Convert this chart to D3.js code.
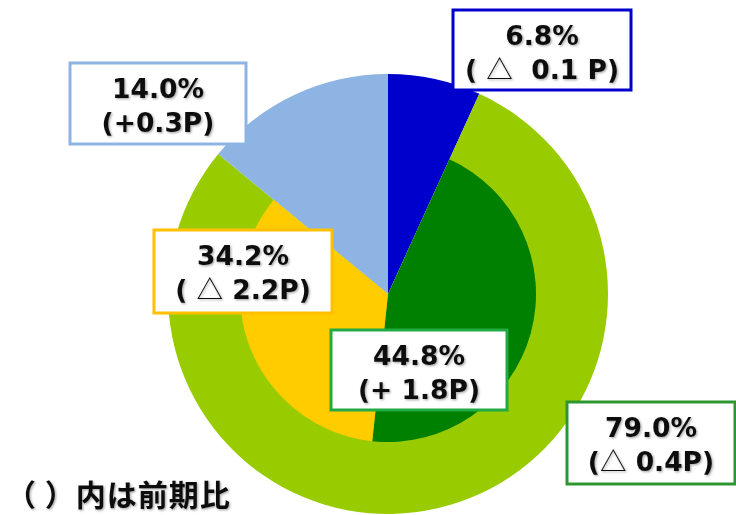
<!DOCTYPE html>
<html><head><meta charset="utf-8">
<script src="https://cdn.jsdelivr.net/npm/d3@7"></script>
<style>
html,body{margin:0;padding:0;background:#fff;}
svg{display:block}
text{white-space:pre}
</style>
</head><body>
<script>
// Outer ring: share of the whole, clockwise from 12 o'clock
const outerValues = [6.8, 79.0, 14.0];
const outerChanges = ["( △  0.1 P)", "(△ 0.4P)", "(+0.3P)"];
const outerColors = ["#0000CC", "#99CC00", "#8DB4E2"];
const outerBorders = ["#0000CC", "#2E962E", "#8DB4E2"];

// Inner pie: breakdown of the 79.0% segment
const innerValues = [44.8, 34.2];
const innerChanges = ["(+ 1.8P)", "( △ 2.2P)"];
const innerColors = ["#008000", "#FFCC00"];
const innerBorders = ["#22AA44", "#FFC000"];

const footnote = "（ ）内は前期比";

// Callout box placement (left, top, width, height)
const outerBoxes = [[453, 10, 178, 80], [567, 402, 168, 82], [70, 63, 176, 81]];
const innerBoxes = [[331, 330, 176, 80], [154, 230, 178, 83]];

const W = 736, H = 515, cx = 388, cy = 294, R = 220, r = 148;
const latin = "'DejaVu Sans', 'Noto Sans CJK JP', sans-serif";
const cjk = "'Noto Sans CJK JP', sans-serif";

const svg = d3.select("body").append("svg").attr("width", W).attr("height", H);

const defs = svg.append("defs");
const sh = defs.append("filter").attr("id", "tshadow")
  .attr("x", "-10%").attr("y", "-20%").attr("width", "130%").attr("height", "150%");
sh.append("feDropShadow").attr("dx", 1.2).attr("dy", 1.2).attr("stdDeviation", 0.8)
  .attr("flood-color", "#000").attr("flood-opacity", 0.35);

const outerArcs = d3.pie().sort(null).value(d => d)(outerValues);
const mid = outerArcs[1];
const innerArcs = d3.pie().sort(null).value(d => d)
  .startAngle(mid.startAngle).endAngle(mid.endAngle)(innerValues);

const g = svg.append("g").attr("transform", `translate(${cx},${cy})`);
const outerArc = d3.arc().innerRadius(0).outerRadius(R);
const innerArc = d3.arc().innerRadius(0).outerRadius(r);

g.selectAll("path.outer").data(outerArcs).join("path")
  .attr("class", "outer").attr("d", outerArc).attr("fill", (d, i) => outerColors[i]);
g.selectAll("path.inner").data(innerArcs).join("path")
  .attr("class", "inner").attr("d", innerArc).attr("fill", (d, i) => innerColors[i]);

const fmt = d3.format(".1f");

function callout(box, border, value, change) {
  const [x, y, w, h] = box;
  const c = svg.append("g");
  c.append("rect").attr("x", x).attr("y", y).attr("width", w).attr("height", h)
    .attr("fill", "#fff").attr("stroke", border).attr("stroke-width", 3);
  const tx = x + w / 2;
  const t = c.append("g").attr("filter", "url(#tshadow)");
  t.append("text").attr("x", tx).attr("y", y + 35).attr("text-anchor", "middle")
    .attr("font-family", latin).attr("font-weight", "bold").attr("font-size", 26.5)
    .attr("fill", "#111").text(fmt(value) + "%");
  const t2 = t.append("text").attr("x", tx).attr("y", y + 69).attr("text-anchor", "middle")
    .attr("font-family", latin).attr("font-weight", "bold").attr("font-size", 26.5)
    .attr("fill", "#111");
  change.split(/(△)/).filter(s => s.length).forEach(s => {
    const sp = t2.append("tspan").text(s);
    if (s === "△") sp.attr("font-family", cjk).attr("font-weight", "normal");
  });
}

outerValues.forEach((v, i) => callout(outerBoxes[i], outerBorders[i], v, outerChanges[i]));
innerValues.forEach((v, i) => callout(innerBoxes[i], innerBorders[i], v, innerChanges[i]));

svg.append("text").attr("x", 6).attr("y", 506)
  .attr("font-family", cjk).attr("font-weight", "bold").attr("font-size", 30)
  .attr("letter-spacing", 1)
  .attr("fill", "#111").attr("filter", "url(#tshadow)").text(footnote);
</script>
</body></html>
